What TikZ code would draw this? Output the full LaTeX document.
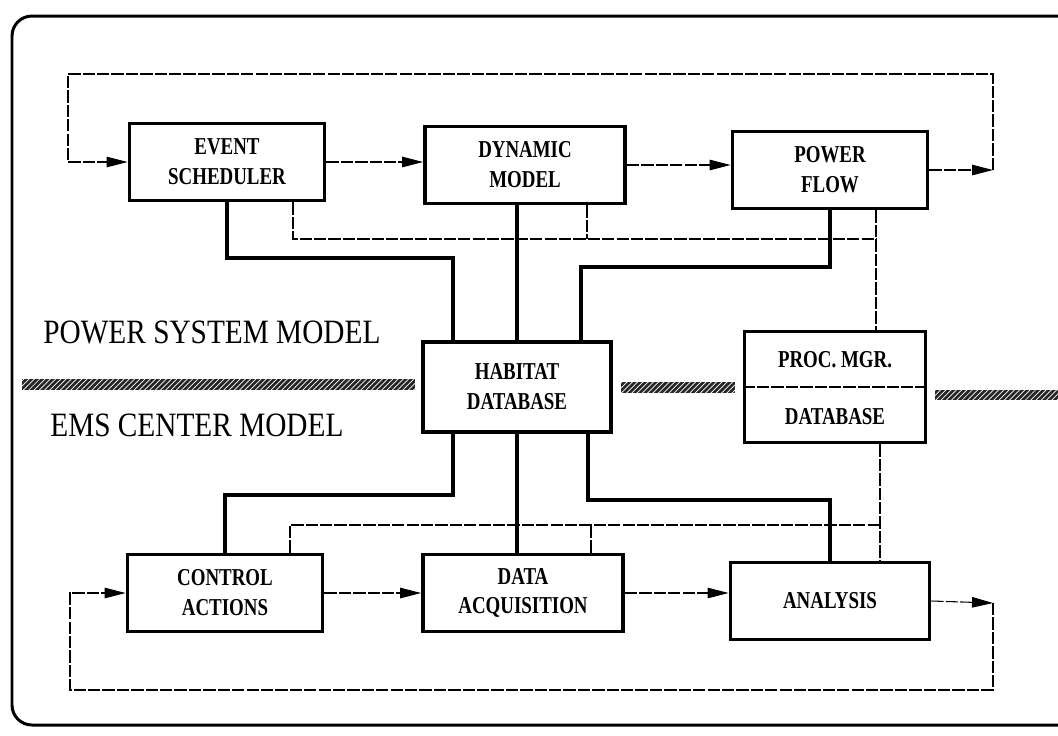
\documentclass[tikz,border=0pt]{standalone}
\usepackage{fontspec}
\setmainfont{Liberation Serif}[FakeStretch=0.86]
\newfontfamily\boxfont{Liberation Serif}[FakeStretch=0.78]
\usepackage{tikz}
\usetikzlibrary{arrows.meta,positioning,calc,patterns}
\tikzset{
    block/.style={draw, line width=2.2pt, fill=white, minimum width=#1,
                  minimum height=1.54cm, inner sep=0pt, align=center,
                  font=\boxfont\fontsize{13.8}{17}\selectfont\bfseries},
    block/.default=3.9cm,
    boxtext/.style={inner sep=0pt, font=\boxfont\fontsize{13.8}{17}\selectfont\bfseries},
    biglabel/.style={anchor=west, inner sep=0pt, font=\fontsize{19.4}{22}\selectfont},
    hatchbar/.style={fill=black!85, postaction={pattern=north east lines, pattern color=white}},
}

\begin{document}
\begin{tikzpicture}[
    x=0.02cm, y=-0.02cm,
    flow/.style={line width=0.6pt, dash pattern=on 7pt off 1.2pt,
                 -{Triangle[length=4.2mm, width=2.1mm]}},
    bus/.style={line width=0.6pt, dash pattern=on 7pt off 1.2pt},
    link/.style={line width=2.3pt}
]
    \useasboundingbox (0,0) rectangle (1058,735);
    \draw[line width=1.7pt, rounded corners=0.4cm] (12,16) rectangle (1085,725);

    % power system side
    \node[block] (evsched) at (227,162) {EVENT\\SCHEDULER};
    \node[block=4cm] (dynmodel) at (525,165) {DYNAMIC\\MODEL};
    \node[block] (pwrflow) at (830,170) {POWER\\FLOW};

    % shared database
    \node[block=3.76cm, minimum height=1.8cm] (habitat) at (517,387) {HABITAT\\DATABASE};
    \node[block=3.62cm, minimum height=2.22cm] (procmgr) at (835,387) {};
    \node[boxtext] (pmtop) at ($(procmgr.north)!0.26!(procmgr.south)$) {PROC. MGR.};
    \node[boxtext] (pmbot) at ($(procmgr.north)!0.76!(procmgr.south)$) {DATABASE};
    \draw[bus] (procmgr.west) -- (procmgr.east);

    % ems center side
    \node[block] (ctrlact) at (225,593) {CONTROL\\ACTIONS};
    \node[block=4cm] (dataacq) at (523,593) {DATA\\ACQUISITION};
    \node[block=3.98cm] (analysis) at (830,601) {ANALYSIS};

    \node[biglabel] (psmlabel) at (43,332) {POWER SYSTEM MODEL};
    \node[biglabel] (emslabel) at (50,425) {EMS CENTER MODEL};

    \path[hatchbar] (22,379) rectangle (415,390);
    \path[hatchbar] (621,382) rectangle (735,393);
    \path[hatchbar] (935,390) rectangle (1060,400);

    \coordinate (k1) at (453,258);
    \coordinate (k2) at (581,267);
    \coordinate (k3) at (453,495);
    \coordinate (k4) at (588,500);
    \coordinate (k5) at (293,239);
    \coordinate (k6) at (876,239);
    \coordinate (k7) at (587,239);
    \coordinate (k8) at (290,525);
    \coordinate (k9) at (880,525);
    \coordinate (k10) at (591,525);
    \coordinate (k11) at (993,170);
    \coordinate (k12) at (68,74);
    \coordinate (k13) at (993,603);
    \coordinate (k14) at (70,690);

    % thick links to the habitat database
    \draw[link] (evsched.south) |- (k1) -- (k1 |- habitat.north);
    \draw[link] (dynmodel.south -| habitat.north) -- (habitat.north);
    \draw[link] (pwrflow.south) |- (k2) -- (k2 |- habitat.north);
    \draw[link] (habitat.south -| k3) -- (k3) -| (ctrlact.north);
    \draw[link] (habitat.south) -- (habitat.south |- dataacq.north);
    \draw[link] (habitat.south -| k4) -- (k4) -| (analysis.north);

    % thin buses
    \draw[bus] (evsched.south -| k5) |- (k6);
    \draw[bus] (dynmodel.south -| k7) -- (k7);
    \draw[bus] (pwrflow.south -| k6) -- (procmgr.north -| k6);
    \draw[bus] (ctrlact.north -| k8) |- (k9);
    \draw[bus] (dataacq.north -| k10) -- (k10);
    \draw[bus] (procmgr.south -| k9) -- (analysis.north -| k9);

    % flows
    \draw[flow] (evsched.east) -- (evsched.east -| dynmodel.west);
    \draw[flow] (dynmodel.east) -- (dynmodel.east -| pwrflow.west);
    \draw[flow] (pwrflow.east) -- (k11);
    \draw[flow] (k11) |- (k12) |- (evsched.west);
    \draw[flow] (ctrlact.east) -- (ctrlact.east -| dataacq.west);
    \draw[flow] (dataacq.east) -- (dataacq.east -| analysis.west);
    \draw[flow] (analysis.east) -- (k13);
    \draw[flow] (k13) |- (k14) |- (ctrlact.west);
\end{tikzpicture}
\end{document}
